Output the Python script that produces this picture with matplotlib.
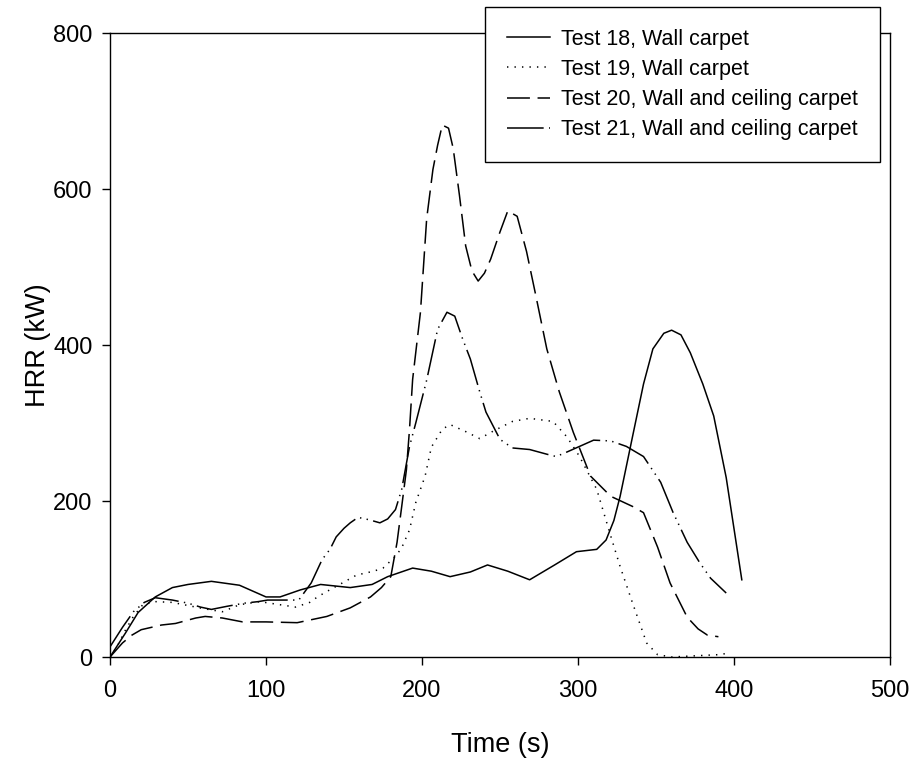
import matplotlib.pyplot as plt

plt.rcParams['font.family'] = ['Liberation Sans', 'DejaVu Sans']

# Test 18, Wall carpet
t18 = [0, 10, 18, 29, 40, 50, 65, 83, 100, 109, 122, 135, 154, 168, 178, 194, 206, 218, 231, 242,
       255, 269, 285, 299, 312, 318, 323, 327, 335, 342, 348, 355, 360, 366, 372, 380, 387, 395, 405]
hrr18 = [0, 31, 57, 77, 89, 93, 97, 92, 77, 77, 86, 93, 89, 93, 103, 114, 110, 103, 109, 118,
         110, 99, 118, 135, 138, 150, 175, 206, 283, 350, 395, 415, 419, 413, 390, 350, 309, 230, 99]

# Test 19, Wall carpet
t19 = [0, 5, 10, 15, 21, 29, 40, 50, 60, 72, 83, 96, 109, 119, 128, 133, 139, 149, 158, 169,
       175, 183, 187, 192, 196, 202, 206, 213, 218, 228, 237, 246, 258, 269, 284, 293, 301, 312, 321, 327,
       335, 344, 351, 360, 370, 380, 390, 397]
hrr19 = [0, 15, 35, 52, 67, 71, 70, 66, 62, 58, 67, 71, 67, 64, 70, 77, 84, 95, 105, 110,
         114, 129, 140, 163, 198, 232, 269, 292, 298, 289, 280, 290, 302, 306, 302, 282, 257, 215, 155, 116,
         69, 18, 3, 0, 1, 2, 3, 5]

# Test 20, Wall and ceiling carpet
t20 = [0, 8, 14, 20, 33, 42, 55, 61, 72, 85, 100, 120, 139, 154, 167, 174, 180, 184, 187, 190,
       192, 194, 199, 203, 207, 210, 213, 217, 220, 224, 228, 232, 236, 240, 244, 250, 255, 261, 267, 273,
       280, 288, 297, 308, 321, 335, 342, 351, 359, 370, 377, 383, 390]
hrr20 = [0, 18, 28, 35, 41, 43, 50, 52, 50, 45, 45, 44, 52, 63, 77, 89, 103, 147, 193, 240,
         292, 356, 442, 562, 625, 656, 682, 678, 652, 592, 527, 495, 482, 492, 510, 545, 572, 565, 520, 463,
         395, 340, 288, 232, 206, 193, 185, 141, 95, 51, 36, 28, 26]

# Test 21, Wall and ceiling carpet
t21 = [0, 8, 15, 22, 29, 40, 50, 58, 65, 75, 86, 95, 101, 111, 121, 129, 136, 141, 145, 150,
       154, 159, 166, 173, 178, 183, 187, 192, 196, 203, 210, 216, 221, 226, 231, 237, 241, 250, 258, 269,
       280, 286, 292, 301, 310, 321, 331, 342, 353, 361, 370, 378, 385, 395]
hrr21 = [13, 38, 58, 70, 76, 73, 69, 64, 61, 65, 69, 71, 73, 73, 73, 95, 125, 138, 154, 165,
         172, 179, 176, 172, 177, 189, 215, 270, 300, 355, 420, 442, 437, 408, 382, 340, 314, 279, 268, 266,
         260, 257, 262, 270, 278, 277, 270, 257, 224, 185, 147, 121, 101, 82]

labels = ['Test 18, Wall carpet', 'Test 19, Wall carpet',
          'Test 20, Wall and ceiling carpet', 'Test 21, Wall and ceiling carpet']

fig = plt.figure(figsize=(9.12, 7.61), dpi=100)
ax = fig.add_axes([110 / 912, 1 - 657 / 761, 780 / 912, 624 / 761])

lw = 1.1
ax.plot(t18, hrr18, color='black', lw=lw, label=labels[0])
ax.plot(t19, hrr19, color='black', lw=lw, dashes=(0.9, 4.0), label=labels[1])
ax.plot(t20, hrr20, color='black', lw=lw, dashes=(15, 5), label=labels[2])
ax.plot(t21, hrr21, color='black', lw=lw, dashes=(24, 3.5, 0.9, 3.5, 0.9, 3.5), label=labels[3])

ax.set_xlim(0, 500)
ax.set_ylim(0, 800)
ax.set_xticks([0, 100, 200, 300, 400, 500])
ax.set_yticks([0, 200, 400, 600, 800])
ax.tick_params(direction='out', length=5.5, width=1, labelsize=17,
               top=False, right=False)
ax.tick_params(axis='x', pad=11)
ax.tick_params(axis='y', pad=7)
for s in ax.spines.values():
    s.set_linewidth(1)
    s.set_color('black')

ax.set_xlabel('Time (s)', fontsize=19.5)
ax.set_ylabel('HRR (kW)', fontsize=19.5)
ax.xaxis.set_label_coords(0.5, -0.12)
ax.yaxis.set_label_coords(-0.076, 0.5)

leg = ax.legend(loc='upper left', bbox_to_anchor=(485 / 912, 1 - 7 / 761),
                bbox_transform=fig.transFigure, borderaxespad=0, fontsize=15.5,
                fancybox=False, framealpha=1, edgecolor='black',
                handlelength=2.0, handletextpad=0.55, labelspacing=0.43,
                borderpad=1.0)
leg.get_frame().set_linewidth(1)
leg.set_zorder(5)

fig.savefig('out.png', dpi=100)
